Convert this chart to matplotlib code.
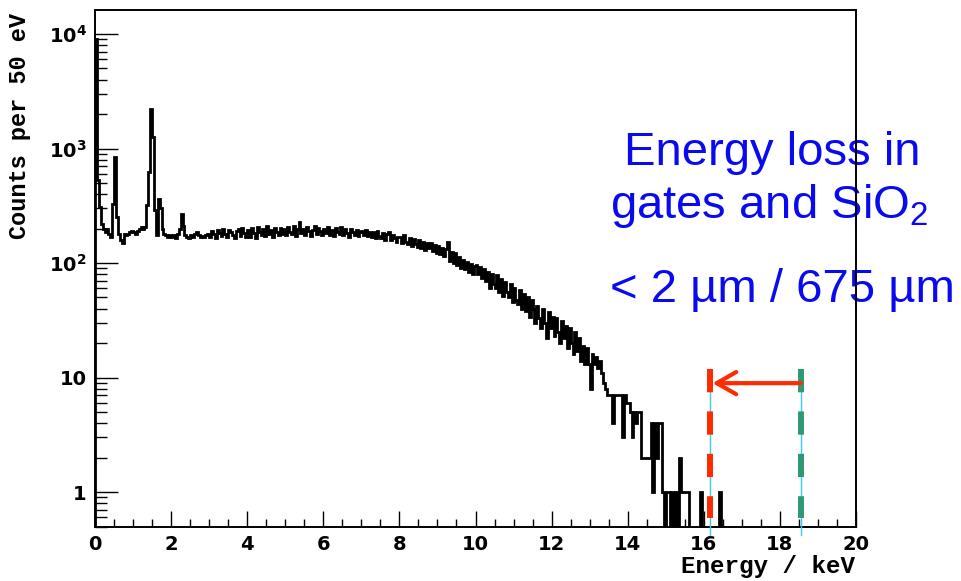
import matplotlib
matplotlib.use('Agg')
import matplotlib.pyplot as plt
import numpy as np
from matplotlib.patches import FancyArrowPatch
from matplotlib.ticker import FixedLocator, MultipleLocator, LogLocator, FuncFormatter, NullFormatter

plt.rcParams['font.family'] = 'DejaVu Sans'
plt.rcParams['font.weight'] = 'bold'
plt.rcParams['mathtext.fontset'] = 'custom'
plt.rcParams['mathtext.rm'] = 'Liberation Sans:regular'
plt.rcParams['mathtext.bf'] = 'DejaVu Sans:bold'

# counts per 50 eV bin, one row per keV
counts_0_5 = [
    9000, 530, 310, 220, 200, 186, 200, 180, 170, 330, 850, 250, 180, 160, 150, 180, 175, 180, 186, 192,
    185, 180, 190, 200, 205, 200, 205, 320, 620, 2200, 1250, 290, 175, 360, 300, 200, 180, 175, 170, 175,
    170, 175, 165, 180, 200, 270, 210, 175, 170, 165, 175, 170, 180, 185, 175, 170, 172, 168, 175, 180,
    170, 192, 178, 165, 196, 182, 172, 200, 180, 168, 194, 186, 174, 164, 190, 198, 172, 202, 184, 170,
    196, 170, 204, 182, 166, 208, 186, 176, 200, 172, 212, 180, 194, 168, 204, 186, 174, 202, 180, 198,
]
counts_5_10 = [
    176, 206, 188, 180, 210, 172, 200, 228, 184, 198, 176, 206, 192, 172, 196, 212, 180, 204, 190, 176,
    200, 184, 206, 176, 196, 172, 204, 188, 180, 208, 174, 198, 182, 168, 200, 186, 176, 196, 172, 188,
    192, 174, 196, 172, 188, 168, 186, 164, 190, 172, 166, 184, 160, 178, 186, 158, 176, 166, 154, 170,
    168, 150, 174, 154, 146, 166, 140, 162, 146, 138, 160, 134, 152, 130, 150, 134, 150, 128, 144, 122,
    140, 120, 136, 116, 132, 152, 104, 124, 100, 122, 96, 112, 90, 106, 88, 102, 84, 98, 80, 94,
]
counts_10_15 = [
    96, 80, 92, 74, 88, 70, 84, 60, 80, 66, 60, 78, 56, 72, 52, 68, 56, 50, 66, 46,
    60, 48, 44, 58, 40, 54, 38, 50, 34, 48, 40, 30, 42, 33, 27, 40, 30, 22, 37, 27,
    34, 23, 33, 25, 20, 31, 22, 28, 18, 27, 20, 16, 25, 17, 22, 14, 19, 13, 18, 13,
    8, 16, 13, 15, 12, 14, 11, 9, 8, 7, 7, 7, 4, 7, 7, 7, 7, 3, 7, 6,
    6, 5, 3, 5, 4, 5, 5, 2, 2, 2, 2, 2, 4, 1, 4, 2, 4, 4, 1, 0,
]
counts_15_20 = [
    1, 1, 0, 1, 0, 1, 0, 2, 1, 1, 1, 1, 0, 0, 0, 0, 0, 0, 1, 0,
    0, 0, 0, 0, 0, 0, 0, 0, 1, 0, 0, 0, 0, 0, 0, 0, 0, 0, 0, 0,
    0, 0, 0, 0, 0, 0, 0, 0, 0, 0, 0, 0, 0, 0, 0, 0, 0, 0, 0, 0,
    0, 0, 0, 0, 0, 0, 0, 0, 0, 0, 0, 0, 0, 0, 0, 0, 0, 0, 0, 0,
    0, 0, 0, 0, 0, 0, 0, 0, 0, 0, 0, 0, 0, 0, 0, 0, 0, 0, 0, 0,
]

# line positions in keV
e_before = 18.55
e_after = 16.16
text_lines = ['Energy loss in', 'gates and SiO$_2$', '< 2 µm / 675 µm']

counts = np.array(counts_0_5 + counts_5_10 + counts_10_15 + counts_15_20, dtype=float)
edges = np.linspace(0, 20, len(counts) + 1)

fig = plt.figure(figsize=(9.61, 5.81), dpi=100)
ax = fig.add_axes([95 / 961, 1 - 527 / 581, (856 - 95) / 961, (527 - 10) / 581])

# empty bins drop to the bottom of the frame
drawn = np.where(counts > 0, counts, 0.1)
ax.stairs(drawn, edges, baseline=0.1, color='black', lw=2.0, zorder=2.2)

ax.set_yscale('log')
ax.set_xlim(0, 20)
ax.set_ylim(0.495, 16200)

ax.yaxis.set_major_locator(FixedLocator([1, 10, 100, 1000, 10000]))
ax.yaxis.set_minor_locator(LogLocator(base=10, subs=np.arange(2, 10), numticks=20))
ax.yaxis.set_minor_formatter(NullFormatter())


def ylab(v, pos):
    if v >= 100:
        return r'$\mathbf{10^{%d}}$' % int(round(np.log10(v)))
    return '%d' % v


ax.yaxis.set_major_formatter(FuncFormatter(ylab))
ax.xaxis.set_major_locator(MultipleLocator(2))
ax.xaxis.set_minor_locator(MultipleLocator(0.5))

ax.tick_params(axis='y', which='major', direction='in', length=16.5, width=1.0, pad=6, labelsize=14)
ax.tick_params(axis='y', which='minor', direction='in', length=8.5, width=1.0)
ax.tick_params(axis='x', which='major', direction='in', length=11.5, width=1.0, pad=6, labelsize=14)
ax.tick_params(axis='x', which='minor', direction='in', length=5.8, width=1.0)
ax.tick_params(top=False, right=False, which='both')
for sp in ax.spines.values():
    sp.set_linewidth(1.4)

fig.text(20 / 961, 1 - 13 / 581, 'Counts per 50 eV', rotation=90, ha='center', va='top',
         fontfamily='Liberation Mono', fontweight='bold', fontsize=17)
fig.text(855 / 961, 1 - 573 / 581, 'Energy / keV', ha='right', va='baseline',
         fontfamily='Liberation Mono', fontweight='bold', fontsize=17.5)

# thin guides and thick dashed markers
for x in (e_after, e_before):
    ax.plot([x, x], [0.42, 11.8], color='#3EC6F2', lw=1.0, clip_on=False, zorder=3)
ax.plot([e_after, e_after], [11.8, 0.593], color='#FF2A00', lw=4.3, dashes=(3.9, 3.2),
        dash_capstyle='butt', zorder=4)
ax.plot([e_before, e_before], [11.8, 0.593], color='#2E9A74', lw=4.3, dashes=(3.9, 3.2),
        dash_capstyle='butt', zorder=4)

arrow = FancyArrowPatch((e_before, 8.93), (e_after + 0.07, 8.93),
                        arrowstyle='->,head_length=1.4,head_width=0.8', mutation_scale=10,
                        color='#FF2A00', lw=3, shrinkA=0, shrinkB=0, zorder=5)
ax.add_patch(arrow)

blue = '#0A0AF0'
for (x, y, ha), s in zip([(772, 165, 'center'), (610, 218, 'left'), (610, 302, 'left')], text_lines):
    ax.text(x / 961, 1 - y / 581, s, transform=fig.transFigure, ha=ha, va='baseline',
            color=blue, fontsize=34, fontfamily='Liberation Sans', fontweight='normal', zorder=2)

fig.savefig('out.png', dpi=100)
